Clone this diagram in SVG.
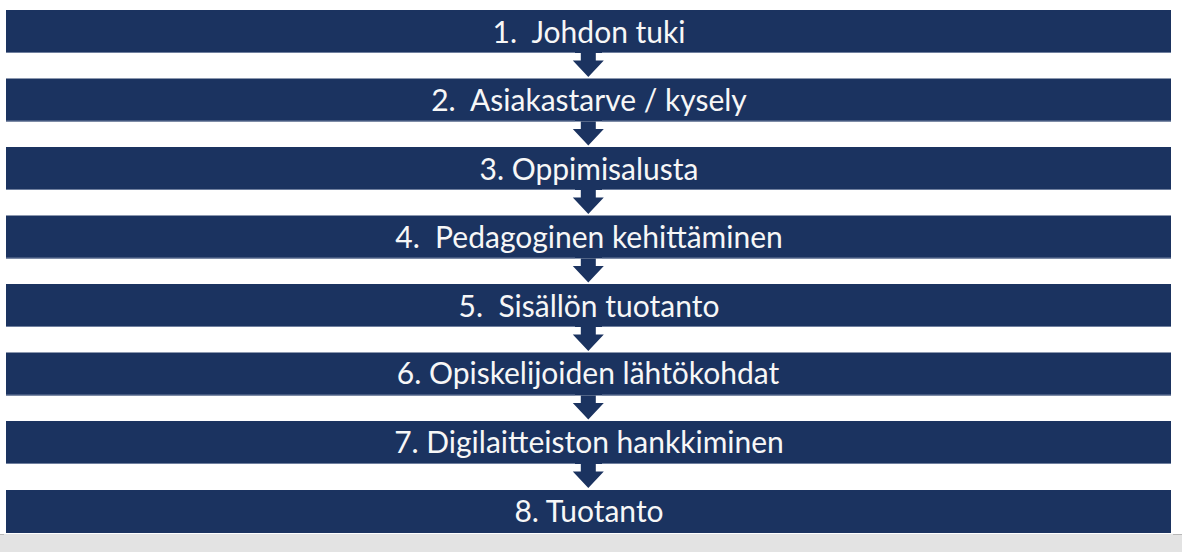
<svg xmlns="http://www.w3.org/2000/svg" width="1182" height="552" viewBox="0 0 1182 552">
<style>
.bar{fill:#1b3360}
.edge{stroke:#6f7f9e;stroke-width:1}
.lbl{font-family:Lato,"Open Sans","Liberation Sans",sans-serif;font-size:30px;fill:#f7f7f7;text-anchor:middle}
.arr{fill:#1b3360}
</style>
<defs>
<path id="arrow" d="M-7.5,0 H7.5 V7.5 H15.5 L0,24 L-15.5,7.5 H-7.5 Z"/>
</defs>
<rect x="0" y="0" width="1182" height="552" fill="#ffffff"/>
<rect x="0" y="534" width="1182" height="18" fill="#e3e3e3"/>
<line x1="0" y1="534.5" x2="4" y2="534.5" stroke="#b8b8b8"/>
<line x1="1173" y1="534.5" x2="1182" y2="534.5" stroke="#b8b8b8"/>
<g id="connectors">
<use href="#arrow" class="arr" x="588.3" y="53"/>
<use href="#arrow" class="arr" x="588.3" y="121.5"/>
<use href="#arrow" class="arr" x="588.3" y="190"/>
<use href="#arrow" class="arr" x="588.3" y="258.5"/>
<use href="#arrow" class="arr" x="588.3" y="327"/>
<use href="#arrow" class="arr" x="588.3" y="395.5"/>
<use href="#arrow" class="arr" x="588.3" y="464"/>
</g>
<g id="node1"><rect class="bar" x="6" y="10" width="1165" height="43"/><line class="edge" x1="6" y1="52.5" x2="575" y2="52.5"/><line class="edge" x1="602" y1="52.5" x2="1171" y2="52.5"/><text class="lbl" x="589" y="42.5" xml:space="preserve">1.  Johdon tuki</text></g>
<g id="node2"><rect class="bar" x="6" y="78.5" width="1165" height="43"/><line class="edge" x1="6" y1="121" x2="575" y2="121"/><line class="edge" x1="602" y1="121" x2="1171" y2="121"/><text class="lbl" x="589" y="111" xml:space="preserve">2.  Asiakastarve / kysely</text></g>
<g id="node3"><rect class="bar" x="6" y="147" width="1165" height="43"/><line class="edge" x1="6" y1="189.5" x2="575" y2="189.5"/><line class="edge" x1="602" y1="189.5" x2="1171" y2="189.5"/><text class="lbl" x="589" y="179.5">3. Oppimisalusta</text></g>
<g id="node4"><rect class="bar" x="6" y="215.5" width="1165" height="43"/><line class="edge" x1="6" y1="258" x2="575" y2="258"/><line class="edge" x1="602" y1="258" x2="1171" y2="258"/><text class="lbl" x="589" y="248" xml:space="preserve">4.  Pedagoginen kehittäminen</text></g>
<g id="node5"><rect class="bar" x="6" y="284" width="1165" height="43"/><line class="edge" x1="6" y1="326.5" x2="575" y2="326.5"/><line class="edge" x1="602" y1="326.5" x2="1171" y2="326.5"/><text class="lbl" x="589" y="316.5" xml:space="preserve">5.  Sisällön tuotanto</text></g>
<g id="node6"><rect class="bar" x="6" y="352.5" width="1165" height="43"/><line class="edge" x1="6" y1="395" x2="575" y2="395"/><line class="edge" x1="602" y1="395" x2="1171" y2="395"/><text class="lbl" x="588" y="384">6. Opiskelijoiden lähtökohdat</text></g>
<g id="node7"><rect class="bar" x="6" y="421" width="1165" height="43"/><line class="edge" x1="6" y1="463.5" x2="575" y2="463.5"/><line class="edge" x1="602" y1="463.5" x2="1171" y2="463.5"/><text class="lbl" x="589" y="453">7. Digilaitteiston hankkiminen</text></g>
<g id="node8"><rect class="bar" x="6" y="490" width="1165" height="43"/><text class="lbl" x="589" y="521.5">8. Tuotanto</text></g>
</svg>
